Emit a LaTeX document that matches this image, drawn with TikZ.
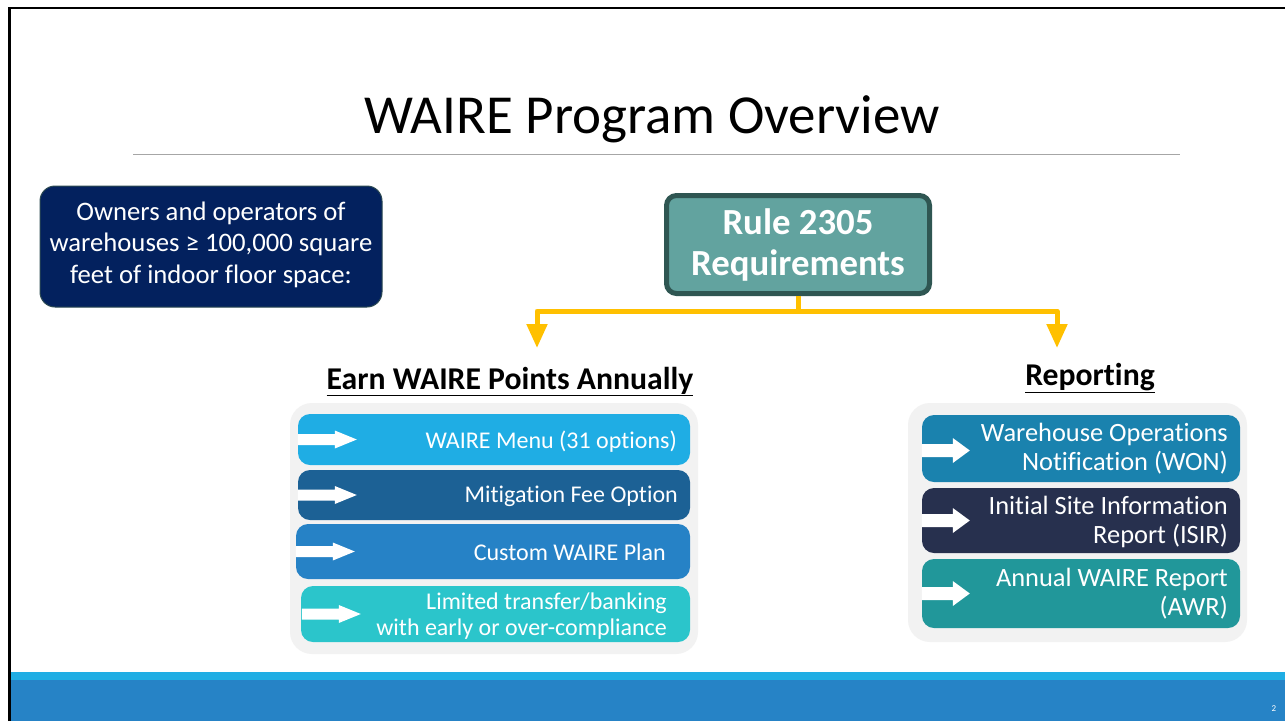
\documentclass[tikz,border=0pt]{standalone}
\usepackage{fontspec}
\setmainfont{Carlito}[Ligatures={NoCommon}]
\usetikzlibrary{arrows.meta}
\definecolor{navybox}{HTML}{03215E}
\definecolor{navyedge}{HTML}{2C4A52}
\definecolor{rulefill}{HTML}{62A39F}
\definecolor{ruleedge}{HTML}{2F5652}
\definecolor{gold}{HTML}{FFC000}
\definecolor{panelgray}{HTML}{F2F2F2}
\definecolor{lone}{HTML}{1FADE4}
\definecolor{ltwo}{HTML}{1C6195}
\definecolor{lthree}{HTML}{2682C6}
\definecolor{lfour}{HTML}{2BC5CB}
\definecolor{rone}{HTML}{1A82AE}
\definecolor{rtwo}{HTML}{27304E}
\definecolor{rthree}{HTML}{21979A}
\definecolor{barlight}{HTML}{1FADE4}
\definecolor{bardark}{HTML}{2683C6}
\definecolor{hrgray}{HTML}{A6A6A6}
\begin{document}
\begin{tikzpicture}[x=1pt,y=-1pt,
  panel/.style={fill=panelgray, rounded corners=22pt, inner sep=0pt},
  rowbox/.style={rounded corners=12pt, inner sep=0pt},
  lefttext/.style={text=white, inner sep=0pt, align=right, font=\fontsize{24}{26}\selectfont},
  righttext/.style={text=white, inner sep=0pt, align=right, font=\fontsize{26.4}{28.5}\selectfont},
  headtext/.style={inner sep=0pt, font=\bfseries\fontsize{31.7}{34}\selectfont},
  conn/.style={draw=gold, line width=5pt, line join=round, -{Triangle[width=20pt,length=24pt]}},
  larrow/.pic={\fill[white] (0,-5.5) -- (37,-5.5) -- (37,-9) -- (59,0) -- (37,9) -- (37,5.5) -- (0,5.5) -- cycle;},
  rarrow/.pic={\fill[white] (0,-6.5) -- (31,-6.5) -- (31,-12.5) -- (48,0) -- (31,12.5) -- (31,6.5) -- (0,6.5) -- cycle;}
]
\useasboundingbox (0,0) rectangle (1285,721);
\fill[white] (0,0) rectangle (1285,721);

% bottom bar
\fill[barlight] (10,672) rectangle (1285,679.5);
\fill[bardark] (10,679.5) rectangle (1285,721);
\node[text=white, inner sep=0pt, font=\fontsize{9}{10}\selectfont] (pg) at (1274,709) {2};

% frame
\draw[black, line width=2.5pt] (9.5,721) -- (9.5,8) -- (1285,8);

% title
\node[anchor=base, inner sep=0pt, font=\fontsize{55}{60}\selectfont] (title) at (652,133.5) {WAIRE Program Overview};
\draw[hrgray, line width=1.3pt] (133,154.5) -- (1180,154.5);

% owners box
\node[fill=navybox, draw=navyedge, line width=1pt, rounded corners=15pt, minimum width=342pt, minimum height=121pt, inner sep=0pt] (owners) at (211,246.5) {};
\node[text=white, align=center, inner sep=0pt, font=\fontsize{26.7}{31.5}\selectfont] (ownerstext) at (211,244.5) {Owners and operators of\\warehouses ≥ 100,000 square\\feet of indoor floor space:};

% rule box
\node[fill=rulefill, draw=ruleedge, line width=5pt, rounded corners=10pt, minimum width=263pt, minimum height=98pt, inner sep=0pt] (rule) at (798,244.5) {};
\node[text=white, align=center, inner sep=0pt, font=\bfseries\fontsize{36.8}{41}\selectfont] (ruletext) at (798,245) {Rule 2305\\Requirements};

% connectors
\coordinate (jn) at (798,311);
\coordinate (la) at (537,348);
\coordinate (ra) at (1057,348);
\draw[draw=gold, line width=5pt] (rule.south) -- (jn);
\draw[conn] (jn) -| (la);
\draw[conn] (jn) -| (ra);

% headings
\node[headtext, anchor=base] (earn) at (510,389) {\underline{Earn WAIRE Points Annually}};
\node[headtext, anchor=base] (rep) at (1090,385) {\underline{Reporting}};

% left panel
\node[panel, minimum width=408pt, minimum height=251pt] (lpanel) at (494,528.5) {};
\node[rowbox, fill=lone, minimum width=392pt, minimum height=51pt] (l1) at (494,439.5) {};
\node[rowbox, fill=ltwo, minimum width=392pt, minimum height=50pt] (l2) at (494,495) {};
\node[rowbox, fill=lthree, minimum width=394pt, minimum height=55pt] (l3) at (493,551.5) {};
\node[rowbox, fill=lfour, minimum width=389pt, minimum height=56pt] (l4) at (495.5,614) {};
\pic at (l1.west) {larrow};
\pic at (l2.west) {larrow};
\pic at (l3.west) {larrow};
\pic at ([xshift=1pt]l4.west) {larrow};
\node[lefttext, anchor=east] (l1t) at (677,442) {WAIRE Menu (31 options)};
\node[lefttext, anchor=east] (l2t) at (678,496.5) {Mitigation Fee Option};
\node[lefttext, anchor=east] (l3t) at (666,552.5) {Custom WAIRE Plan};
\node[lefttext, anchor=east] (l4t) at (667,616) {Limited transfer/banking\\with early or over-compliance};

% right panel
\node[panel, minimum width=339pt, minimum height=239pt] (rpanel) at (1077.5,522.5) {};
\node[rowbox, fill=rone, minimum width=318pt, minimum height=67pt] (r1) at (1081,448.5) {};
\node[rowbox, fill=rtwo, minimum width=318pt, minimum height=65pt] (r2) at (1081,520.5) {};
\node[rowbox, fill=rthree, minimum width=318pt, minimum height=69pt] (r3) at (1081,593.5) {};
\pic at ([yshift=-2pt]r1.west) {rarrow};
\pic at (r2.west) {rarrow};
\pic at (r3.west) {rarrow};
\node[righttext, anchor=east] (r1t) at (1228,448.5) {Warehouse Operations\\Notification (WON)};
\node[righttext, anchor=east] (r2t) at (1228,522) {Initial Site Information\\Report (ISIR)};
\node[righttext, anchor=east] (r3t) at (1228,593.5) {Annual WAIRE Report\\(AWR)};
\end{tikzpicture}
\end{document}
